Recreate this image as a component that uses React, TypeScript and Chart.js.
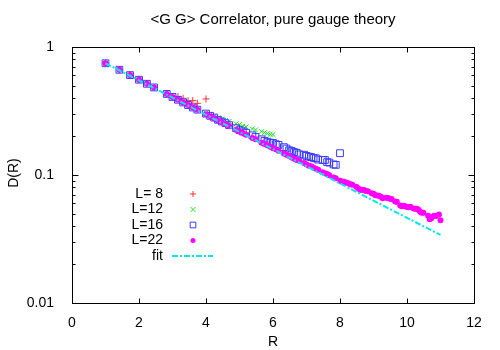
import React, { useEffect, useRef } from 'react';
import { Chart, registerables } from 'chart.js';
import { drawPoint } from 'chart.js/helpers';

Chart.register(...registerables);

// Lattice distances R (sqrt of allowed integer squared distances)
const R_LATTICE = [
  1.0, 1.414, 1.732, 2.0, 2.236, 2.449, 2.828, 3.0, 3.162, 3.317,
  3.464, 3.606, 3.742, 4.0, 4.123, 4.243, 4.359, 4.472, 4.583, 4.69,
  4.899, 5.0, 5.099, 5.196, 5.385, 5.477, 5.657, 5.745, 5.831, 5.916,
  6.0, 6.083, 6.164, 6.325, 6.403, 6.481, 6.557, 6.633, 6.708, 6.782,
  6.928, 7.0, 7.071, 7.141, 7.211, 7.28, 7.348, 7.483, 7.55, 7.616,
  7.681, 7.81, 7.874, 8.0, 8.062, 8.124, 8.185, 8.246, 8.307, 8.367,
  8.485, 8.544, 8.602, 8.66, 8.718, 8.775, 8.832, 8.944, 9.0, 9.055,
  9.11, 9.165, 9.22, 9.274, 9.381, 9.434, 9.487, 9.539, 9.644, 9.695,
  9.798, 9.849, 9.899, 9.95, 10.0, 10.05, 10.1, 10.198, 10.247, 10.296,
  10.344, 10.392, 10.44, 10.488, 10.63, 10.677, 10.724, 10.77, 10.817, 10.863,
  10.954, 11.0,
];

const D_L8 = [
  0.748, 0.664, 0.603, 0.555, 0.516, 0.483, 0.431, 0.41, 0.409, 0.397,
  0.38, 0.381, 0.363, 0.393,
];

const D_L12 = [
  0.746, 0.664, 0.603, 0.555, 0.516, 0.483, 0.43, 0.407, 0.39, 0.373,
  0.356, 0.343, 0.329, 0.305, 0.296, 0.288, 0.28, 0.274, 0.267, 0.262,
  0.251, 0.248, 0.241, 0.237, 0.229, 0.225, 0.218, 0.214, 0.211, 0.208,
  0.207,
];

const D_L16 = [
  0.746, 0.664, 0.603, 0.555, 0.516, 0.483, 0.43, 0.407, 0.387, 0.369,
  0.352, 0.337, 0.324, 0.302, 0.29, 0.281, 0.27, 0.262, 0.254, 0.245,
  0.232, 0.224, 0.219, 0.214, 0.204, 0.198, 0.19, 0.185, 0.182, 0.179,
  0.178, 0.174, 0.172, 0.165, 0.161, 0.156, 0.154, 0.151, 0.149, 0.145,
  0.144, 0.141, 0.139, 0.138, 0.136, 0.135, 0.132, 0.131, 0.131, 0.126,
  0.125, 0.121, 0.12, 0.148,
];

const D_L22 = [
  0.746, 0.664, 0.603, 0.555, 0.516, 0.483, 0.429, 0.407, 0.387, 0.369,
  0.352, 0.337, 0.324, 0.298, 0.288, 0.277, 0.267, 0.258, 0.249, 0.241,
  0.226, 0.219, 0.213, 0.206, 0.195, 0.19, 0.179, 0.175, 0.171, 0.166,
  0.162, 0.159, 0.155, 0.147, 0.144, 0.141, 0.137, 0.134, 0.131, 0.129,
  0.124, 0.121, 0.118, 0.117, 0.114, 0.112, 0.11, 0.105, 0.103, 0.102,
  0.0995, 0.0957, 0.0944, 0.09, 0.0891, 0.0885, 0.0869, 0.0863, 0.0845, 0.0839,
  0.0809, 0.0787, 0.0764, 0.0767, 0.0762, 0.075, 0.0745, 0.0719, 0.0715, 0.0695,
  0.0692, 0.0687, 0.0676, 0.0658, 0.0665, 0.0662, 0.0652, 0.0649, 0.0621, 0.0618,
  0.0578, 0.0569, 0.0574, 0.0571, 0.0562, 0.0561, 0.0565, 0.0548, 0.0546, 0.0544,
  0.0536, 0.0516, 0.0508, 0.0507, 0.048, 0.0451, 0.046, 0.0475, 0.048, 0.0478,
  0.0492, 0.0443,
];

const FIT_R = [1, 11];
const FIT_D = [0.746, 0.034];

const X_TICKS = [0, 2, 4, 6, 8, 10, 12];
const Y_TICKS = [0.01, 0.1, 1];
const SERIES_LABELS = ['L= 8', 'L=12', 'L=16', 'L=22', 'fit'];
const TITLE = '<G G> Correlator, pure gauge theory';
const X_TITLE = 'R';
const Y_TITLE = 'D(R)';

const FONT = "'Liberation Sans', Arial, Helvetica, sans-serif";

const toPoints = (xs: number[], ys: number[]) => ys.map((y, i) => ({ x: xs[i], y }));

const decorPlugin = {
  id: 'decor',
  afterDraw(chart: any) {
    const ctx = chart.ctx;
    const { left, right, top, bottom } = chart.chartArea;
    const xs = chart.scales.x;
    const ys = chart.scales.y;
    ctx.save();
    ctx.strokeStyle = '#000';
    ctx.lineWidth = 1;
    const L = Math.round(left) + 0.5;
    const R = Math.round(right) + 0.5;
    const T = Math.round(top) + 0.5;
    const B = Math.round(bottom) + 0.5;
    ctx.strokeRect(L, T, R - L, B - T);
    ctx.beginPath();
    X_TICKS.forEach((v) => {
      const p = Math.round(xs.getPixelForValue(v)) + 0.5;
      ctx.moveTo(p, B); ctx.lineTo(p, B - 5);
      ctx.moveTo(p, T); ctx.lineTo(p, T + 5);
    });
    Y_TICKS.forEach((v) => {
      const p = Math.round(ys.getPixelForValue(v)) + 0.5;
      ctx.moveTo(L, p); ctx.lineTo(L + 6, p);
      ctx.moveTo(R, p); ctx.lineTo(R - 6, p);
    });
    for (let d = 0; d < Y_TICKS.length - 1; d++) {
      for (let k = 2; k <= 9; k++) {
        const p = Math.round(ys.getPixelForValue(Y_TICKS[d] * k)) + 0.5;
        ctx.moveTo(L, p); ctx.lineTo(L + 3, p);
        ctx.moveTo(R, p); ctx.lineTo(R - 3, p);
      }
    }
    ctx.stroke();

    ctx.fillStyle = '#000';
    ctx.textAlign = 'center';
    ctx.textBaseline = 'middle';
    ctx.font = `15px ${FONT}`;
    ctx.fillText(TITLE, (left + right) / 2, 20);
    ctx.font = `14px ${FONT}`;
    ctx.fillText(X_TITLE, (left + right) / 2, 342);
    ctx.save();
    ctx.translate(14, (top + bottom) / 2 - 2);
    ctx.rotate(-Math.PI / 2);
    ctx.fillText(Y_TITLE, 0, 0);
    ctx.restore();

    const labelX = left + 91;
    const symX = left + 121;
    chart.data.datasets.forEach((ds: any, i: number) => {
      const y = top + 147 + i * 15.5;
      ctx.font = `14px ${FONT}`;
      ctx.textAlign = 'right';
      ctx.fillStyle = '#000';
      ctx.fillText(ds.label, labelX, y);
      if (ds.showLine) {
        ctx.save();
        ctx.strokeStyle = ds.borderColor;
        ctx.lineWidth = ds.borderWidth;
        ctx.setLineDash(ds.borderDash || []);
        ctx.beginPath();
        ctx.moveTo(left + 100, y);
        ctx.lineTo(left + 141, y);
        ctx.stroke();
        ctx.restore();
      } else {
        ctx.save();
        ctx.strokeStyle = ds.pointBorderColor;
        ctx.fillStyle = ds.pointBackgroundColor;
        ctx.lineWidth = ds.pointBorderWidth;
        drawPoint(ctx, { pointStyle: ds.pointStyle, radius: ds.legendRadius, borderWidth: ds.pointBorderWidth, rotation: 0 }, symX, y);
        ctx.restore();
      }
    });
    ctx.restore();
  },
};

export default function App() {
  const ref = useRef<HTMLCanvasElement>(null);
  useEffect(() => {
    if (!ref.current) return;
    Chart.defaults.font.family = FONT;
    Chart.defaults.font.size = 14;
    Chart.defaults.color = '#000';
    const chart = new Chart(ref.current, {
      type: 'scatter',
      data: {
        datasets: [
          {
            label: SERIES_LABELS[0],
            data: toPoints(R_LATTICE, D_L8),
            pointStyle: 'cross',
            pointRadius: 3.5,
            legendRadius: 3,
            pointBorderWidth: 1,
            pointBorderColor: '#ff3030',
            pointBackgroundColor: '#ff3030',
            borderColor: '#ff3030',
            showLine: false,
            order: 4,
          },
          {
            label: SERIES_LABELS[1],
            data: toPoints(R_LATTICE, D_L12),
            pointStyle: 'crossRot',
            pointRadius: 3.5,
            legendRadius: 3.5,
            pointBorderWidth: 1,
            pointBorderColor: '#20e020',
            pointBackgroundColor: '#20e020',
            borderColor: '#20e020',
            showLine: false,
            order: 3,
          },
          {
            label: SERIES_LABELS[2],
            data: toPoints(R_LATTICE, D_L16),
            pointStyle: 'rect',
            pointRadius: 4.8,
            legendRadius: 4,
            pointBorderWidth: 1,
            pointBorderColor: '#3a3aff',
            pointBackgroundColor: 'rgba(0,0,0,0)',
            borderColor: '#3a3aff',
            showLine: false,
            order: 2,
          },
          {
            label: SERIES_LABELS[3],
            data: toPoints(R_LATTICE, D_L22),
            pointStyle: 'circle',
            pointRadius: 3,
            legendRadius: 2.5,
            pointBorderWidth: 0,
            pointBorderColor: '#ff00ff',
            pointBackgroundColor: '#ff00ff',
            borderColor: '#ff00ff',
            showLine: false,
            order: 1,
          },
          {
            label: SERIES_LABELS[4],
            data: toPoints(FIT_R, FIT_D),
            showLine: true,
            pointRadius: 0,
            borderColor: '#00e8e8',
            borderWidth: 2,
            borderDash: [6, 2, 2, 2],
            order: 0,
          },
        ] as any,
      },
      options: {
        responsive: false,
        animation: false,
        layout: { padding: { left: 0, right: 26, top: 47, bottom: 0 } },
        plugins: {
          legend: { display: false },
          title: { display: false },
          tooltip: { enabled: false },
        },
        scales: {
          x: {
            type: 'linear',
            min: 0,
            max: 12,
            grid: { display: false },
            border: { display: false },
            ticks: { padding: 4, maxRotation: 0, autoSkip: false, font: { size: 14 } },
            afterBuildTicks: (axis: any) => {
              axis.ticks = X_TICKS.map((v) => ({ value: v }));
            },
            afterFit: (s: any) => {
              s.height = 47;
            },
          },
          y: {
            type: 'logarithmic',
            min: 0.01,
            max: 1,
            grid: { display: false },
            border: { display: false },
            ticks: {
              padding: 10,
              autoSkip: false,
              font: { size: 14 },
              callback: (v: any) => String(v),
            },
            afterBuildTicks: (axis: any) => {
              axis.ticks = Y_TICKS.map((v) => ({ value: v }));
            },
            afterFit: (s: any) => {
              s.width = 72;
            },
          },
        },
      },
      plugins: [decorPlugin],
    });
    return () => chart.destroy();
  }, []);
  return (
    <div style={{ position: 'fixed', left: 0, top: 0, width: 500, height: 350, background: '#fff' }}>
      <canvas ref={ref} width={500} height={350} />
    </div>
  );
}
